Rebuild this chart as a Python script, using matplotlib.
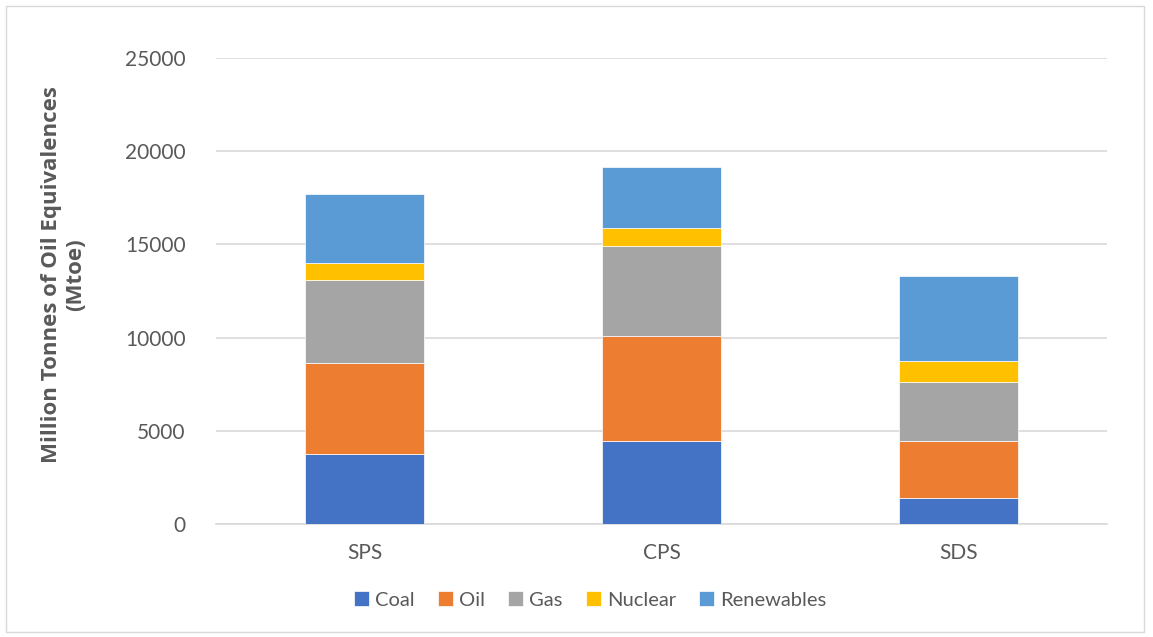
import numpy as np
import matplotlib
matplotlib.use('Agg')
import matplotlib.pyplot as plt
from matplotlib.patches import Rectangle

# Data (Mtoe)
scenarios = ['SPS', 'CPS', 'SDS']
coal = [3760, 4440, 1410]
oil = [4890, 5640, 3050]
gas = [4460, 4850, 3150]
nuclear = [910, 930, 1160]
renewables = [3670, 3290, 4510]

series = ['Coal', 'Oil', 'Gas', 'Nuclear', 'Renewables']
colors = ['#4472C4', '#ED7D31', '#A5A5A5', '#FFC000', '#5B9BD5']

plt.rcParams['font.family'] = ['Lato', 'DejaVu Sans']
text_col = '#595959'

fig = plt.figure(figsize=(11.53, 6.37), dpi=100)
ax = fig.add_axes([216/1153, 1 - 524/637, (1107-216)/1153, (524-58)/637])

x = np.arange(len(scenarios))
bottom = np.zeros(len(scenarios))
for name, vals, c in zip(series, [coal, oil, gas, nuclear, renewables], colors):
    ax.bar(x, vals, width=0.4, bottom=bottom, color=c, label=name,
           edgecolor='white', linewidth=0.5, zorder=3)
    bottom += np.array(vals)

ax.set_xlim(-0.5, 2.5)
ax.set_ylim(0, 25000)
ax.set_yticks(range(0, 25001, 5000))
ax.set_xticks(x)
ax.set_xticklabels(scenarios)
ax.yaxis.grid(True, color='#D9D9D9', linewidth=1.2, zorder=0)
ax.tick_params(axis='both', length=0, colors=text_col, labelsize=15)
ax.tick_params(axis='y', pad=22)
ax.tick_params(axis='x', pad=14)
for s in ['top', 'right', 'left']:
    ax.spines[s].set_visible(False)
ax.spines['bottom'].set_color('#D9D9D9')
ax.spines['bottom'].set_linewidth(1.2)

fig.text(64/1153, 1 - 275/637, 'Million Tonnes of Oil Equivalences\n(Mtoe)',
         rotation=90, ha='center', va='center', fontsize=16,
         fontweight='bold', color=text_col, linespacing=1.2,
         family=['Open Sans', 'DejaVu Sans'])

leg = ax.legend(loc='center', bbox_to_anchor=(590/1153, 1 - 600/637),
                bbox_transform=fig.transFigure, ncol=5, frameon=False,
                fontsize=14.5, handlelength=0.75, handleheight=0.75,
                columnspacing=1.15, handletextpad=0.3)
for t in leg.get_texts():
    t.set_color(text_col)

fig.patches.append(Rectangle((6/1153, 1 - 632/637), 1138/1153, 626/637,
                             transform=fig.transFigure, fill=False,
                             edgecolor='#D9D9D9', linewidth=1))

fig.savefig('out.png', dpi=100)
